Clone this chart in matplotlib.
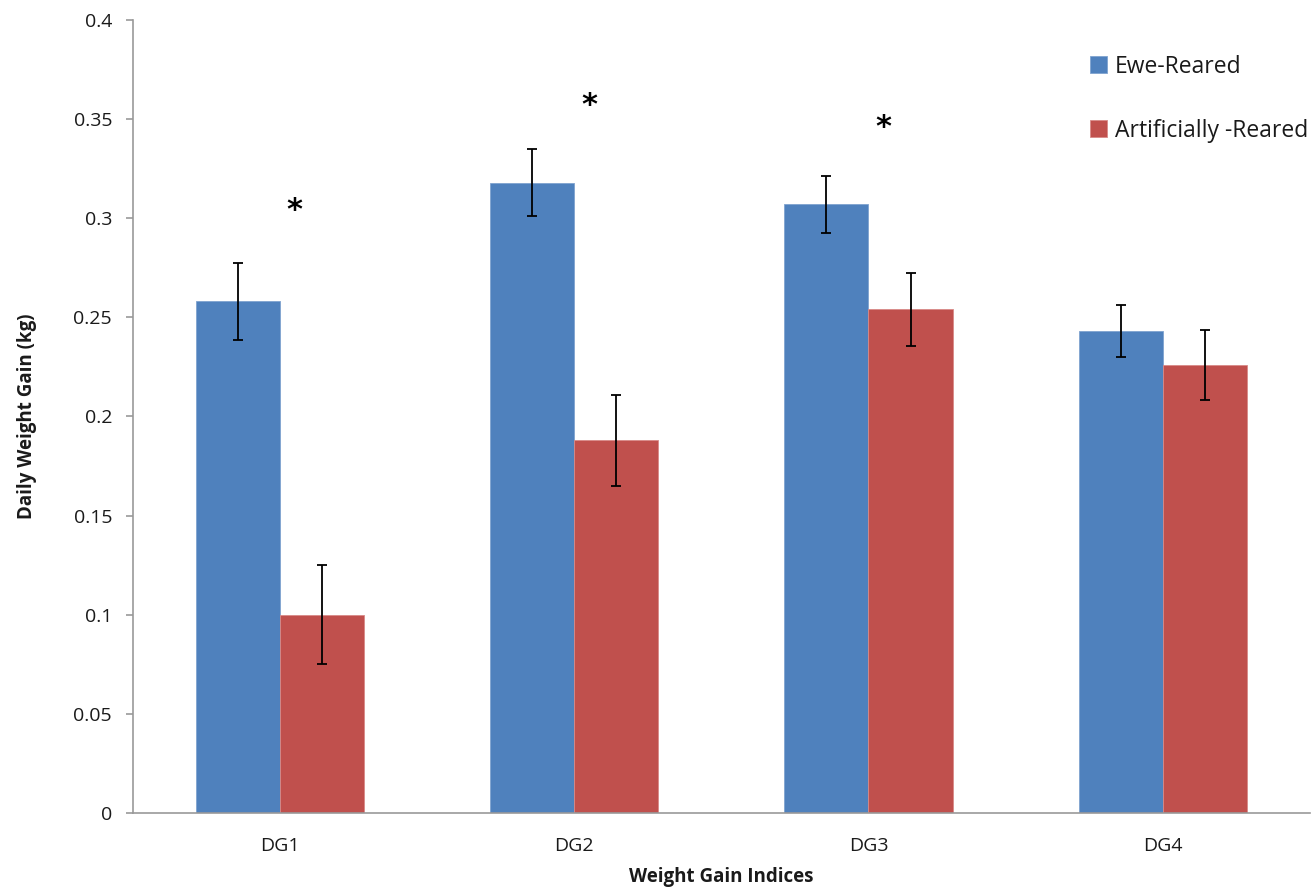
import matplotlib
matplotlib.use("Agg")
import matplotlib.pyplot as plt
import numpy as np

categories = ["DG1", "DG2", "DG3", "DG4"]
ewe_reared = [0.258, 0.318, 0.307, 0.243]
ewe_err = [0.0195, 0.017, 0.0145, 0.013]
artificial = [0.100, 0.188, 0.254, 0.226]
artificial_err = [0.025, 0.023, 0.0185, 0.0175]
star_labels = ["*", "*", "*", ""]
star_heights = [0.304, 0.357, 0.346, 0.0]

BLUE = "#4F81BD"
RED = "#C0504D"
TEXT = "#1a1a1a"

plt.rcParams["font.family"] = ["Open Sans", "DejaVu Sans"]

fig = plt.figure(figsize=(13.15, 8.92), dpi=100)
ax = fig.add_axes([0.1011, 0.0886, 0.8949, 0.889])

x = np.arange(len(categories))
w = 0.286
err_kw = dict(ecolor="black", elinewidth=1.3, capsize=3.6, capthick=1.3)
ax.bar(x - w / 2, ewe_reared, w, color=BLUE, edgecolor="#7fa3cf", linewidth=0.6,
       yerr=ewe_err, error_kw=err_kw, label="Ewe-Reared", zorder=2)
ax.bar(x + w / 2, artificial, w, color=RED, edgecolor="#d88a88", linewidth=0.6,
       yerr=artificial_err, error_kw=err_kw, label="Artificially -Reared", zorder=2)

# significance markers
for xi, lab, h in zip(x, star_labels, star_heights):
    if lab:
        ax.text(xi + 0.05, h, lab, ha="center", va="center", fontsize=22,
                fontweight="bold", color="black", family="DejaVu Sans")

ax.set_xlim(-0.5, 3.5)
ax.set_ylim(0, 0.4)
ax.set_yticks(np.arange(0, 0.41, 0.05))
ax.set_yticklabels(["0", "0.05", "0.1", "0.15", "0.2", "0.25", "0.3", "0.35", "0.4"])
ax.set_xticks(x)
ax.set_xticklabels(categories)
ax.tick_params(axis="y", length=5, width=1.2, color="#999999", labelsize=14,
               labelcolor=TEXT, pad=10)
ax.tick_params(axis="x", length=0, labelsize=14, labelcolor=TEXT, pad=17)

for side in ["top", "right"]:
    ax.spines[side].set_visible(False)
for side in ["left", "bottom"]:
    ax.spines[side].set_color("#999999")
    ax.spines[side].set_linewidth(1.2)

ax.set_ylabel("Daily Weight Gain (kg)", fontsize=13.5, fontweight="bold", color=TEXT, labelpad=26)
ax.set_xlabel("Weight Gain Indices", fontsize=13.5, fontweight="bold", color=TEXT, labelpad=9)

ax.legend(loc="upper left", bbox_to_anchor=(0.813, 0.962), bbox_transform=fig.transFigure,
          frameon=False, fontsize=16.5, handlelength=0.75, handleheight=0.75,
          handletextpad=0.35, labelspacing=1.75, labelcolor=TEXT)

fig.savefig("out.png", dpi=100)
